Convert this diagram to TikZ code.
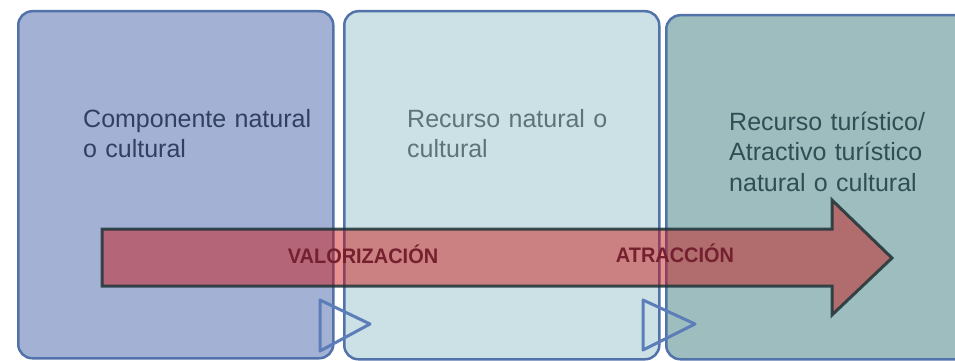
\documentclass[tikz,border=0pt]{standalone}
\usepackage{fontspec}
\setmainfont{Liberation Sans}
\usepackage{graphicx}
\definecolor{boxA}{HTML}{A3B1D4}
\definecolor{boxB}{HTML}{CCE1E5}
\definecolor{boxC}{HTML}{9DBDBF}
\definecolor{edge}{HTML}{5272AA}
\definecolor{txtA}{HTML}{333F60}
\definecolor{txtB}{HTML}{5E7478}
\definecolor{txtC}{HTML}{2F4F55}
\definecolor{arrowred}{RGB}{203,10,10}
\definecolor{arrowedge}{HTML}{1E3438}
\definecolor{lbl}{HTML}{74202E}
\definecolor{tri}{HTML}{5B7DB8}
\begin{document}
\begin{tikzpicture}[x=1pt,y=-1pt,
  panel/.style={draw=edge, line width=2.5pt, rounded corners=14pt, anchor=north west, inner sep=0pt},
  boxtext/.style={anchor=base west, inner sep=0pt, align=left, text width=240pt, font=\fontsize{25}{30.5}\selectfont},
  flowlabel/.style={anchor=base, inner sep=0pt, text=lbl, font=\bfseries\fontsize{21}{25}\selectfont},
  chevron/.style={draw=tri, line width=3pt, line join=round},
  bigarrow/.style={fill=arrowred, fill opacity=0.45, draw=arrowedge, draw opacity=0.85, line width=3pt, line join=miter}]
\useasboundingbox (0,0) rectangle (955,361);
\fill[white] (0,0) rectangle (955,361);
\clip (0,0) rectangle (955,361);
% panels
\node[panel, fill=boxA, minimum width=315pt, minimum height=347pt] (b1) at (17,10) {};
\node[panel, fill=boxB, minimum width=315pt, minimum height=348pt] (b2) at (343,10) {};
\node[panel, fill=boxC, minimum width=320pt, minimum height=344pt] (b3) at (665,14) {};
% panel texts
\node[boxtext, text=txtA] (t1) at (83,127) {Componente natural\\o cultural};
\node[boxtext, text=txtB] (t2) at (407,127) {Recurso natural o\\cultural};
\node[boxtext, text=txtC] (t3) at (729,130) {Recurso turístico/\\Atractivo turístico\\natural o cultural};
% chevrons between panels
\coordinate (c1a) at (320,300);
\coordinate (c1b) at (370,324);
\coordinate (c1c) at (320,351);
\coordinate (c2a) at (643,300);
\coordinate (c2b) at (695,324);
\coordinate (c2c) at (643,350);
\draw[chevron] (c1a) -- (c1b) -- (c1c) -- cycle;
\draw[chevron] (c2a) -- (c2b) -- (c2c) -- cycle;
% big arrow
\coordinate (s1) at (102,229);
\coordinate (s2) at (832,229);
\coordinate (h1) at (832,200);
\coordinate (tip) at (892,258);
\coordinate (h2) at (832,315);
\coordinate (s3) at (832,286);
\coordinate (s4) at (102,286);
\draw[bigarrow] (s1) -- (s2) -- (h1) -- (tip) -- (h2) -- (s3) -- (s4) -- cycle;
% labels
\node[flowlabel] (l1) at (363,263) {\scalebox{0.95}[1]{VALORIZACIÓN}};
\node[flowlabel] (l2) at (675,262) {\scalebox{0.95}[1]{ATRACCIÓN}};
\end{tikzpicture}
\end{document}
